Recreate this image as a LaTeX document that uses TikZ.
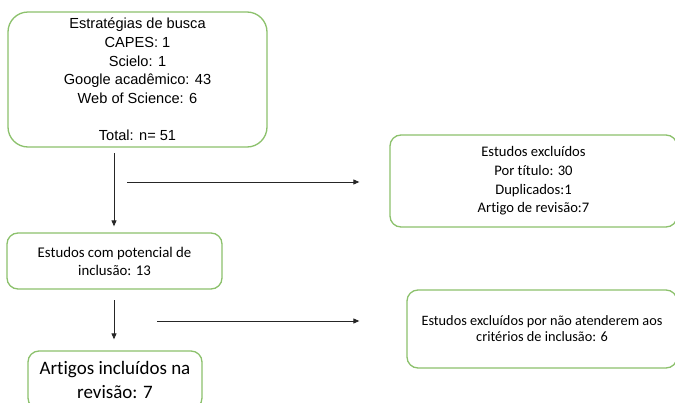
\documentclass[tikz,border=0pt]{standalone}
\usepackage{fontspec}
\setmainfont{Liberation Sans}
\newfontfamily\calib[Ligatures={NoCommon,NoContextual}]{Carlito}
\usetikzlibrary{arrows.meta}
\definecolor{boxgreen}{HTML}{8CC16C}
\definecolor{arrowgray}{HTML}{262626}
\tikzset{
  gbox/.style={draw=boxgreen, line width=1.3pt, rounded corners=11pt, inner sep=0pt, align=center, fill=white},
  arr/.style={draw=arrowgray, line width=0.9pt, -{Triangle[length=6pt,width=5pt]}},
}
\begin{document}
\begin{tikzpicture}[x=1pt,y=-1pt]
\useasboundingbox (0,0) rectangle (675,402);
\fill[white] (0,0) rectangle (675,402);
\node[gbox, rounded corners=20pt, minimum width=259pt, minimum height=135pt,
      font=\fontsize{14.6}{18.7}\selectfont] (b1) at (137.5,79.5)
  {Estratégias de busca\\CAPES: 1\\Scielo: 1\\Google acadêmico: 43\\Web of Science: 6\\[18.7pt]Total: n= 51};
\node[gbox, minimum width=215pt, minimum height=56pt,
      font=\calib\fontsize{14.8}{18}\selectfont] (b2) at (114.5,261)
  {Estudos com potencial de\\inclusão: 13};
\node[gbox, minimum width=287pt, minimum height=92pt,
      font=\calib\fontsize{14.6}{18.7}\selectfont] (b3) at (533.5,181)
  {Estudos excluídos\\Por título: 30\\Duplicados:1\\Artigo de revisão:7};
\node[gbox, minimum width=270pt, minimum height=78pt,
      font=\calib\fontsize{14.3}{16}\selectfont] (b5) at (542,329)
  {Estudos excluídos por não atenderem aos\\critérios de inclusão: 6};
\node[gbox, minimum width=174pt, minimum height=58pt,
      font=\calib\fontsize{19}{24}\selectfont] (b4) at (115,380)
  {Artigos incluídos na\\revisão: 7};
\coordinate (v1) at (114,153);
\coordinate (v2) at (114,300);
\coordinate (h1) at (127,182);
\coordinate (h2) at (157,321);
\draw[arr, shorten >=6pt] (v1) -- (v1 |- b2.north);
\draw[arr, shorten >=11pt] (v2) -- (v2 |- b4.north);
\draw[arr, shorten >=30pt] (h1) -- (h1 -| b3.west);
\draw[arr, shorten >=47pt] (h2) -- (h2 -| b5.west);
\end{tikzpicture}
\end{document}
